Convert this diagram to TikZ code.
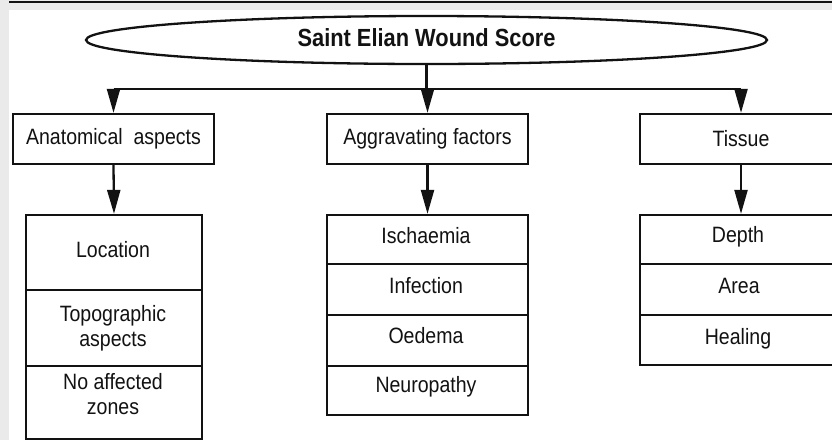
\documentclass[tikz,border=0pt]{standalone}
\usepackage{fontspec}
\setmainfont{Liberation Sans}[FakeStretch=0.88]
\usetikzlibrary{shapes.geometric,arrows.meta}
\definecolor{pagegray}{RGB}{234,234,234}
\definecolor{ink}{RGB}{18,18,18}

\begin{document}
\begin{tikzpicture}[x=1pt,y=-1pt,
  every node/.style={font=\fontsize{22.2}{25}\selectfont, text=ink},
  frame/.style={draw=ink, line width=2.3pt, rectangle, inner sep=0pt},
  header/.style={frame, minimum width=201pt, minimum height=50pt},
  lbl/.style={inner sep=0pt, align=center},
  link/.style={draw=ink, line width=2.3pt},
  arr/.style={link, -{Triangle[length=24pt,width=13pt]}}]

  % canvas
  \useasboundingbox (0,0) rectangle (832,440);
  \fill[pagegray] (0,0) rectangle (832,440);
  \fill[white] (9,10) rectangle (832,440);
  \draw[ink, line width=2.5pt] (9,2) -- (832,2);
  \clip (0,0) rectangle (832,440);

  % title
  \node[draw=ink, line width=2.3pt, ellipse, minimum width=681pt, minimum height=48pt,
        inner sep=0pt, text depth=5pt, font=\bfseries\fontsize{24.8}{28}\selectfont]
        (title) at (426.5,40) {Saint Elian Wound Score};

  % category headers
  \node[header] (anat) at (113.5,139) {Anatomical\ \ aspects};
  \node[header] (aggr) at (427.5,139) {Aggravating factors};
  \node[header, minimum width=202pt] (tiss) at (741,139) {Tissue};

  % distribution bar
  \coordinate (hub) at (title.south |- 0,89);
  \coordinate (jl) at (anat.north |- hub);
  \coordinate (jm) at (aggr.north |- hub);
  \coordinate (jr) at (tiss.north |- hub);
  \draw[link] (title.south) -- (hub);
  \draw[link] (jl) -- (jr);
  \draw[arr] (jl) -- (anat.north);
  \draw[arr] (jm) -- (aggr.north);
  \draw[arr] (jr) -- (tiss.north);

  % anatomical aspects cells
  \node[frame, minimum width=176pt, minimum height=75pt] (l1) at (114,252.5) {};
  \node[frame, minimum width=176pt, minimum height=76pt] (l2) at (114,328) {};
  \node[frame, minimum width=176pt, minimum height=73pt] (l3) at (114,402.5) {};
  \node[lbl, anchor=base] (tl1) at (113,257) {Location};
  \node[lbl] (tl2) at (113,327.8) {Topographic\\aspects};
  \node[lbl] (tl3) at (113,394.5) {No affected\\zones};

  % aggravating factors cells
  \node[frame, minimum width=201pt, minimum height=49pt] (m1) at (427.5,239.5) {};
  \node[frame, minimum width=201pt, minimum height=51pt] (m2) at (427.5,289.5) {};
  \node[frame, minimum width=201pt, minimum height=51pt] (m3) at (427.5,340.5) {};
  \node[frame, minimum width=201pt, minimum height=49pt] (m4) at (427.5,390.5) {};
  \node[lbl, anchor=base] (tm1) at (426,243) {Ischaemia};
  \node[lbl, anchor=base] (tm2) at (426,293) {Infection};
  \node[lbl, anchor=base] (tm3) at (426,343) {Oedema};
  \node[lbl, anchor=base] (tm4) at (426,392) {Neuropathy};

  % tissue cells
  \node[frame, minimum width=202pt, minimum height=49pt] (r1) at (741,239.5) {};
  \node[frame, minimum width=202pt, minimum height=51pt] (r2) at (741,289.5) {};
  \node[frame, minimum width=202pt, minimum height=50pt] (r3) at (741,340) {};
  \node[lbl, anchor=base] (tr1) at (738,242) {Depth};
  \node[lbl, anchor=base] (tr2) at (739,293) {Area};
  \node[lbl, anchor=base] (tr3) at (738,344) {Healing};

  % header-to-cell arrows
  \draw[arr] (anat.south) -- (l1.north);
  \draw[arr] (aggr.south) -- (m1.north);
  \draw[arr] (tiss.south) -- (r1.north);
\end{tikzpicture}
\end{document}
